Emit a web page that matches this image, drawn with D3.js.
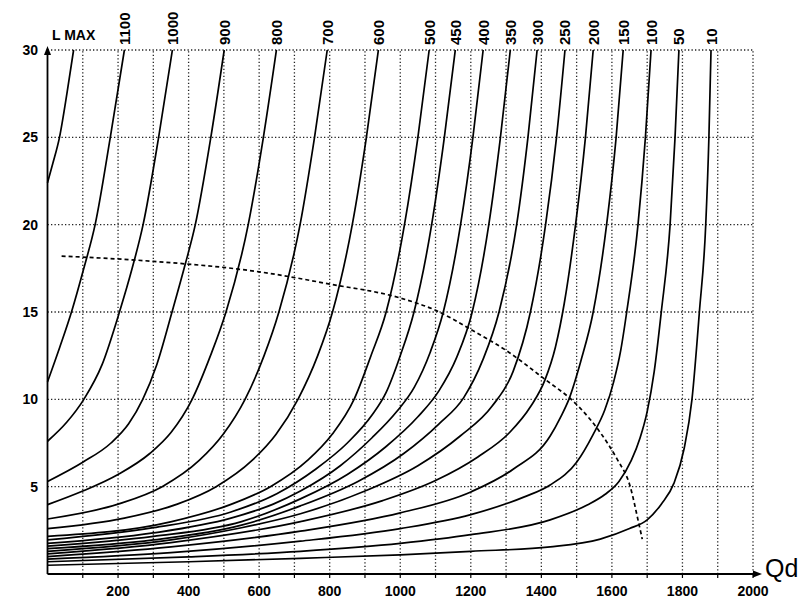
<!DOCTYPE html>
<html><head><meta charset="utf-8">
<script src="https://cdn.jsdelivr.net/npm/d3@7"></script>
<style>body{margin:0;background:#fff}svg{display:block}</style>
</head><body><svg id="c" width="801" height="600"></svg>
<script>
// ---- data ----
const xTicks = [200,400,600,800,1000,1200,1400,1600,1800,2000];
const yTicks = [5,10,15,20,25,30];
const curveLabels = ["", "1100","1000","900","800","700","600","500","450","400","350","300","250","200","150","100","50","10"];
const c1200 = [[0,22.4],[15,23.5],[34,25],[55,27.5],[74,30]];
const c1100 = [[0,11],[35,13],[68,15],[103,17.5],[135,20],[178,25],[218,30]];
const c1000 = [[0,7.6],[55,8.7],[103,10],[155,12],[204,15],[240,17.5],[271,20],[315,25],[354,30]];
const c900 = [[0,5.3],[100,6.4],[180,7.5],[230,8.6],[270,10],[310,12],[353,15],[390,17.7],[419,20],[463,25],[501,30]];
const c800 = [[0,3.97],[100,4.75],[200,5.7],[290,6.9],[350,8.1],[410,10],[462,12.5],[506,15],[569,20],[612,25],[649,30]];
const c700 = [[0,3.15],[200,4.0],[325,5.0],[430,6.5],[498,8],[560,10],[614,12.5],[656,15],[716,20],[757,25],[793,30]];
const c600 = [[0,2.6],[218,3.2],[368,4],[478,5],[580,6.5],[648,8],[710,10],[766,12.5],[808,15],[864,20],[904,25],[938,30]];
const c500 = [[0,2.15],[352,3],[522,4],[632,5],[737,6.5],[807,8],[869,10],[917,12.5],[960,15],[1012,20],[1050,25],[1082,30]];
const c450 = [[0,1.95],[300,2.65],[520,3.55],[650,4.6],[760,6.0],[850,7.5],[920,9.1],[960,10.4],[1000,12.5],[1039,15],[1089,20],[1125,25],[1156,30]];
const c400 = [[0,1.75],[300,2.35],[520,3.2],[640,4.0],[717,4.75],[830,6.2],[920,7.8],[990,9.3],[1040,10.7],[1085,12.7],[1122,15],[1171,20],[1206,25],[1235,30]];
const c350 = [[0,1.6],[300,2.15],[550,3.0],[717,4.3],[850,5.7],[960,7.3],[1050,9.0],[1110,10.5],[1160,12.4],[1204,15],[1251,20],[1284,25],[1312,30]];
const c300 = [[0,1.45],[300,1.95],[550,2.8],[717,3.9],[880,5.3],[1010,6.9],[1110,8.6],[1180,10.1],[1235,12.3],[1280,15],[1330,20],[1362,25],[1388,30]];
const c250 = [[0,1.3],[350,1.95],[550,2.65],[717,3.45],[900,4.75],[1050,6.2],[1170,7.9],[1260,9.6],[1320,11.6],[1369,15],[1412,20],[1443,25],[1467,30]];
const c200 = [[0,1.15],[350,1.8],[717,3.0],[950,4.2],[1100,5.35],[1220,6.7],[1310,8.1],[1370,9.6],[1410,11.1],[1440,13],[1465,15.5],[1497,20],[1525,25],[1547,30]];
const c150 = [[0,1.0],[350,1.55],[717,2.45],[1000,3.5],[1200,4.7],[1320,6.0],[1425,7.9],[1455,9.0],[1478,10],[1512,12.2],[1547,15],[1585,20],[1612,25],[1632,30]];
const c100 = [[0,0.85],[350,1.22],[717,1.88],[1000,2.6],[1200,3.4],[1350,4.4],[1425,5.1],[1500,6.4],[1547,8.0],[1580,9.4],[1605,11],[1625,12.8],[1642,15],[1674,20],[1695,25],[1711,30]];
const c50 = [[0,0.7],[400,0.98],[717,1.3],[1000,1.75],[1200,2.25],[1425,3.1],[1530,3.95],[1580,4.55],[1620,5.3],[1655,6.5],[1680,7.8],[1700,9.3],[1720,11.6],[1740,15],[1765,20],[1779,25],[1790,30]];
const c10 = [[0,0.5],[400,0.7],[717,0.9],[1000,1.1],[1200,1.3],[1425,1.55],[1567,2.0],[1650,2.6],[1700,3.1],[1740,4.0],[1776,5.2],[1805,7.2],[1827,10],[1848,15],[1866,20],[1875,25],[1881,30]];
const limitCurve = [[40,18.2],[300,17.9],[600,17.3],[800,16.6],[1000,15.8],[1100,15.1],[1200,14.0],[1300,12.8],[1400,11.3],[1510,9.5],[1567,8.1],[1614,6.6],[1652,5.0],[1674,3.1],[1686,2.0]];
const curves = [c1200,c1100,c1000,c900,c800,c700,c600,c500,c450,c400,c350,c300,c250,c200,c150,c100,c50,c10];

// ---- drawing ----
const svg = d3.select("#c");
const x = d3.scaleLinear().domain([0,2000]).range([47.5,753]);
const y = d3.scaleLinear().domain([0,30]).range([574,50]);
const font = "'Liberation Sans', Arial, sans-serif";

const grid = svg.append("g").attr("stroke","#222").attr("stroke-width",1.3).attr("stroke-dasharray","1.3,2.2").attr("fill","none");
grid.selectAll("line.v").data(d3.range(100,2001,100)).join("line")
  .attr("x1",d=>x(d)).attr("x2",d=>x(d)).attr("y1",y(0)).attr("y2",y(30));
grid.selectAll("line.h").data(yTicks).join("line")
  .attr("x1",x(0)).attr("x2",x(2000)).attr("y1",d=>y(d)).attr("y2",d=>y(d));

// axes
const ax = svg.append("g").attr("stroke","#000").attr("stroke-width",1.8);
ax.append("line").attr("x1",x(0)).attr("x2",x(0)).attr("y1",y(0)).attr("y2",y(30)+2);
ax.append("line").attr("x1",x(0)).attr("x2",x(2000)+2).attr("y1",y(0)).attr("y2",y(0));
svg.append("path").attr("d",`M${x(0)-3.5},${y(30)+5}L${x(0)},${y(30)-4}L${x(0)+3.5},${y(30)+5}Z`).attr("fill","#000");
svg.append("path").attr("d",`M${x(2000)},${y(0)-3.5}L${x(2000)+9},${y(0)}L${x(2000)},${y(0)+3.5}Z`).attr("fill","#000");
svg.append("g").attr("stroke","#000").attr("stroke-width",1.2)
  .selectAll("line").data(d3.range(100,2001,100)).join("line")
  .attr("x1",d=>x(d)).attr("x2",d=>x(d)).attr("y1",y(0)).attr("y2",y(0)+4);

// tick labels
svg.append("g").selectAll("text").data(xTicks).join("text")
  .attr("x",d=>x(d)).attr("y",596).attr("text-anchor","middle")
  .attr("font-family",font).attr("font-weight","bold").attr("font-size",14).text(d=>d);
svg.append("g").selectAll("text").data(yTicks).join("text")
  .attr("x",38).attr("y",d=>y(d)+5).attr("text-anchor","end")
  .attr("font-family",font).attr("font-weight","bold").attr("font-size",14).text(d=>d);
svg.append("text").attr("x",52).attr("y",40).attr("font-family",font).attr("font-weight","bold").attr("font-size",14).text("L  MAX");
svg.append("text").attr("x",765).attr("y",577).attr("font-family",font).attr("font-size",25).text("Qd");

// curves
const line = d3.line().x(d=>x(d[0])).y(d=>y(d[1])).curve(d3.curveMonotoneX);
svg.append("g").attr("fill","none").attr("stroke","#000").attr("stroke-width",1.7)
  .selectAll("path").data(curves).join("path").attr("d",line);
svg.append("path").datum(limitCurve).attr("d",line).attr("fill","none").attr("stroke","#000")
  .attr("stroke-width",1.7).attr("stroke-dasharray","4,3");

// curve labels
svg.append("g").selectAll("text").data(curves.map((c,i)=>({q:c[c.length-1][0],t:curveLabels[i]})).filter(d=>d.t))
  .join("text").attr("transform",d=>`translate(${x(d.q)+5.5},45) rotate(-90)`)
  .attr("font-family",font).attr("font-weight","bold").attr("font-size",15).text(d=>d.t);
</script></body></html>
